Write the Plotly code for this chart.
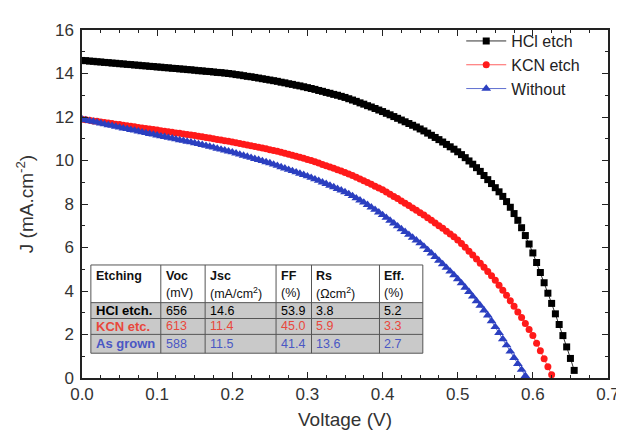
import plotly.graph_objects as go

# ---------------- data ----------------
V_STEP = 0.005  # voltage sampling step (V)

J_hcl = [14.60, 14.59, 14.57, 14.56, 14.54, 14.53, 14.51, 14.50, 14.48, 14.47,
         14.45, 14.44, 14.42, 14.41, 14.39, 14.38, 14.36, 14.35, 14.33, 14.32,
         14.30, 14.29, 14.27, 14.26, 14.24, 14.23, 14.21, 14.20, 14.18, 14.17,
         14.15, 14.13, 14.12, 14.10, 14.09, 14.07, 14.05, 14.04, 14.02, 14.00,
         13.98, 13.95, 13.93, 13.90, 13.87, 13.85, 13.82, 13.79, 13.76, 13.73,
         13.70, 13.67, 13.64, 13.60, 13.57, 13.53, 13.50, 13.46, 13.43, 13.39,
         13.35, 13.31, 13.27, 13.22, 13.18, 13.13, 13.09, 13.04, 13.00, 12.95,
         12.90, 12.84, 12.78, 12.72, 12.65, 12.59, 12.52, 12.46, 12.39, 12.32,
         12.25, 12.17, 12.10, 12.02, 11.94, 11.86, 11.78, 11.70, 11.62, 11.54,
         11.45, 11.36, 11.26, 11.16, 11.06, 10.96, 10.85, 10.74, 10.63, 10.52,
         10.40, 10.27, 10.13, 9.98, 9.83, 9.67, 9.50, 9.31, 9.12, 8.94,
         8.75, 8.56, 8.35, 8.11, 7.85, 7.56, 7.25, 6.91, 6.55, 6.16,
         5.75, 5.31, 4.85, 4.38, 3.90, 3.43, 2.95, 2.46, 1.95, 1.43,
         0.90, 0.35]

J_kcn = [11.90, 11.87, 11.85, 11.82, 11.80, 11.77, 11.75, 11.72, 11.70, 11.67,
         11.65, 11.62, 11.60, 11.57, 11.55, 11.52, 11.50, 11.47, 11.45, 11.42,
         11.40, 11.37, 11.35, 11.32, 11.30, 11.27, 11.25, 11.22, 11.20, 11.17,
         11.15, 11.12, 11.09, 11.06, 11.03, 11.00, 10.97, 10.94, 10.91, 10.88,
         10.85, 10.82, 10.78, 10.75, 10.71, 10.68, 10.64, 10.61, 10.57, 10.54,
         10.50, 10.46, 10.42, 10.38, 10.33, 10.29, 10.24, 10.20, 10.15, 10.10,
         10.05, 10.00, 9.94, 9.88, 9.82, 9.76, 9.70, 9.64, 9.58, 9.52,
         9.45, 9.38, 9.31, 9.23, 9.15, 9.07, 8.99, 8.91, 8.82, 8.74,
         8.65, 8.55, 8.45, 8.35, 8.25, 8.14, 8.04, 7.93, 7.82, 7.71,
         7.60, 7.49, 7.37, 7.25, 7.13, 7.00, 6.88, 6.75, 6.62, 6.49,
         6.35, 6.18, 6.01, 5.83, 5.65, 5.47, 5.28, 5.09, 4.90, 4.70,
         4.50, 4.27, 4.04, 3.80, 3.55, 3.30, 3.04, 2.78, 2.51, 2.23,
         1.95, 1.60, 1.25, 0.89, 0.52, 0.15]

J_without = [11.90, 11.86, 11.82, 11.79, 11.75, 11.71, 11.67, 11.63, 11.60, 11.56,
             11.52, 11.48, 11.45, 11.41, 11.38, 11.34, 11.30, 11.27, 11.23, 11.20,
             11.16, 11.12, 11.09, 11.05, 11.02, 10.98, 10.94, 10.91, 10.87, 10.84,
             10.80, 10.76, 10.72, 10.68, 10.64, 10.60, 10.55, 10.51, 10.47, 10.42,
             10.38, 10.33, 10.28, 10.23, 10.18, 10.13, 10.08, 10.03, 9.98, 9.93,
             9.88, 9.82, 9.76, 9.70, 9.64, 9.58, 9.52, 9.46, 9.40, 9.34,
             9.28, 9.21, 9.14, 9.07, 9.00, 8.93, 8.85, 8.78, 8.70, 8.63,
             8.55, 8.46, 8.37, 8.27, 8.17, 8.07, 7.96, 7.85, 7.74, 7.62,
             7.50, 7.37, 7.24, 7.11, 6.98, 6.85, 6.72, 6.59, 6.46, 6.33,
             6.20, 6.05, 5.89, 5.73, 5.57, 5.40, 5.24, 5.07, 4.90, 4.73,
             4.55, 4.36, 4.16, 3.96, 3.75, 3.54, 3.33, 3.11, 2.88, 2.62,
             2.35, 2.08, 1.79, 1.51, 1.22, 0.93, 0.65, 0.38, 0.10]

series_names = ["HCl etch", "KCN etch", "Without"]

table_header1 = ["Etching", "Voc", "Jsc", "FF", "Rs", "Eff."]
table_header2 = ["", "(mV)", "(mA/cm<sup>2</sup>)", "(%)", "(Ωcm<sup>2</sup>)", "(%)"]
table_rows = [
    ["HCl etch.", "656", "14.6", "53.9", "3.8", "5.2"],
    ["KCN etc.", "613", "11.4", "45.0", "5.9", "3.3"],
    ["As grown", "588", "11.5", "41.4", "13.6", "2.7"],
]

x_ticks = [0.0, 0.1, 0.2, 0.3, 0.4, 0.5, 0.6, 0.7]
y_ticks = [0, 2, 4, 6, 8, 10, 12, 14, 16]

# ---------------- styling ----------------
W, H = 624, 431
L, R, T, B = 74, 608, 22, 373  # plot area in pixels
FONT = "Liberation Sans, Arial, sans-serif"

def volts(n):
    return [round(i * V_STEP, 3) for i in range(n)]

fig = go.Figure()
styles = [
    dict(color="#000000", sym="square", size=7, lc="#333333"),
    dict(color="#ff1a1a", sym="circle", size=7, lc="#ff6060"),
    dict(color="#2b3fc0", sym="triangle-up", size=8.5, lc="#6070d0"),
]
for name, J, st in zip(series_names, [J_hcl, J_kcn, J_without], styles):
    fig.add_trace(go.Scatter(
        x=volts(len(J)), y=J, name=name, mode="lines+markers",
        line=dict(color=st["lc"], width=1),
        marker=dict(symbol=st["sym"], size=st["size"], color=st["color"],
                    line=dict(width=0)),
    ))

# table drawn with shapes + annotations (pixel -> paper conversion)
def px(x):
    return (x - L) / (R - L)

def py(y):
    return (B - y) / (B - T)

col_edges = [83, 154, 199, 271, 307, 376, 420]
row_edges = [259, 297, 313, 329, 348]
row_colors = ["#000000", "#e8473c", "#4a57c4"]

shapes = []
shapes.append(dict(type="rect", xref="paper", yref="paper",
                   x0=px(col_edges[0]), x1=px(col_edges[-1]),
                   y0=py(row_edges[1]), y1=py(row_edges[0]),
                   fillcolor="white", line=dict(width=0), layer="above"))
for r in range(3):
    shapes.append(dict(type="rect", xref="paper", yref="paper",
                       x0=px(col_edges[0]), x1=px(col_edges[-1]),
                       y0=py(row_edges[r + 2]), y1=py(row_edges[r + 1]),
                       fillcolor="#c9c9c9", line=dict(width=0), layer="above"))
for xe in col_edges:
    shapes.append(dict(type="line", xref="paper", yref="paper",
                       x0=px(xe), x1=px(xe), y0=py(row_edges[-1]), y1=py(row_edges[0]),
                       line=dict(color="#555555", width=1), layer="above"))
for ye in row_edges:
    shapes.append(dict(type="line", xref="paper", yref="paper",
                       x0=px(col_edges[0]), x1=px(col_edges[-1]), y0=py(ye), y1=py(ye),
                       line=dict(color="#555555", width=1), layer="above"))

annotations = []
for c in range(6):
    annotations.append(dict(xref="paper", yref="paper", x=px(col_edges[c] + 3), y=py(270),
                            text="<b>%s</b>" % table_header1[c], showarrow=False,
                            xanchor="left", yanchor="middle",
                            font=dict(family=FONT, size=12.5, color="#111111")))
    if table_header2[c]:
        annotations.append(dict(xref="paper", yref="paper", x=px(col_edges[c] + 3), y=py(287),
                                text=table_header2[c], showarrow=False,
                                xanchor="left", yanchor="middle",
                                font=dict(family=FONT, size=12.5, color="#111111")))
for r, row in enumerate(table_rows):
    yc = (row_edges[r + 1] + row_edges[r + 2]) / 2
    for c, val in enumerate(row):
        txt = "<b>%s</b>" % val if c == 0 else val
        annotations.append(dict(xref="paper", yref="paper", x=px(col_edges[c] + 3), y=py(yc),
                                text=txt, showarrow=False, xanchor="left", yanchor="middle",
                                font=dict(family=FONT, size=13 if c == 0 else 12.5,
                                          color=row_colors[r])))

axis_common = dict(
    showline=True, linecolor="#222222", linewidth=1.5, mirror="ticks",
    ticks="inside", ticklen=6, tickwidth=1.2, tickcolor="#222222",
    showgrid=False, zeroline=False,
    tickfont=dict(family=FONT, size=17, color="#333333"),
)

fig.update_layout(
    width=W, height=H,
    margin=dict(l=L, r=W - R, t=T, b=H - B),
    paper_bgcolor="white", plot_bgcolor="white",
    xaxis=dict(range=[0, 0.7], tickvals=x_ticks, ticktext=["%.1f" % v for v in x_ticks],
               minor=dict(dtick=0.025, ticks="inside", ticklen=3, tickcolor="#222222"),
               title=dict(text="Voltage (V)", font=dict(family=FONT, size=19, color="#333333"),
                          standoff=10),
               **axis_common),
    yaxis=dict(range=[0, 16], tickvals=y_ticks,
               minor=dict(dtick=1, ticks="inside", ticklen=3, tickcolor="#222222"),
               title=dict(text="J (mA.cm<sup>-2</sup>)",
                          font=dict(family=FONT, size=19, color="#333333"), standoff=16),
               ticklabelstandoff=3,
               **axis_common),
    legend=dict(x=px(459), y=py(16), xanchor="left", yanchor="top",
                bgcolor="rgba(0,0,0,0)", borderwidth=0,
                font=dict(family=FONT, size=16, color="#222222"),
                itemwidth=40, tracegroupgap=0),
    shapes=shapes, annotations=annotations,
    showlegend=True,
)

fig.write_html("out.html")
